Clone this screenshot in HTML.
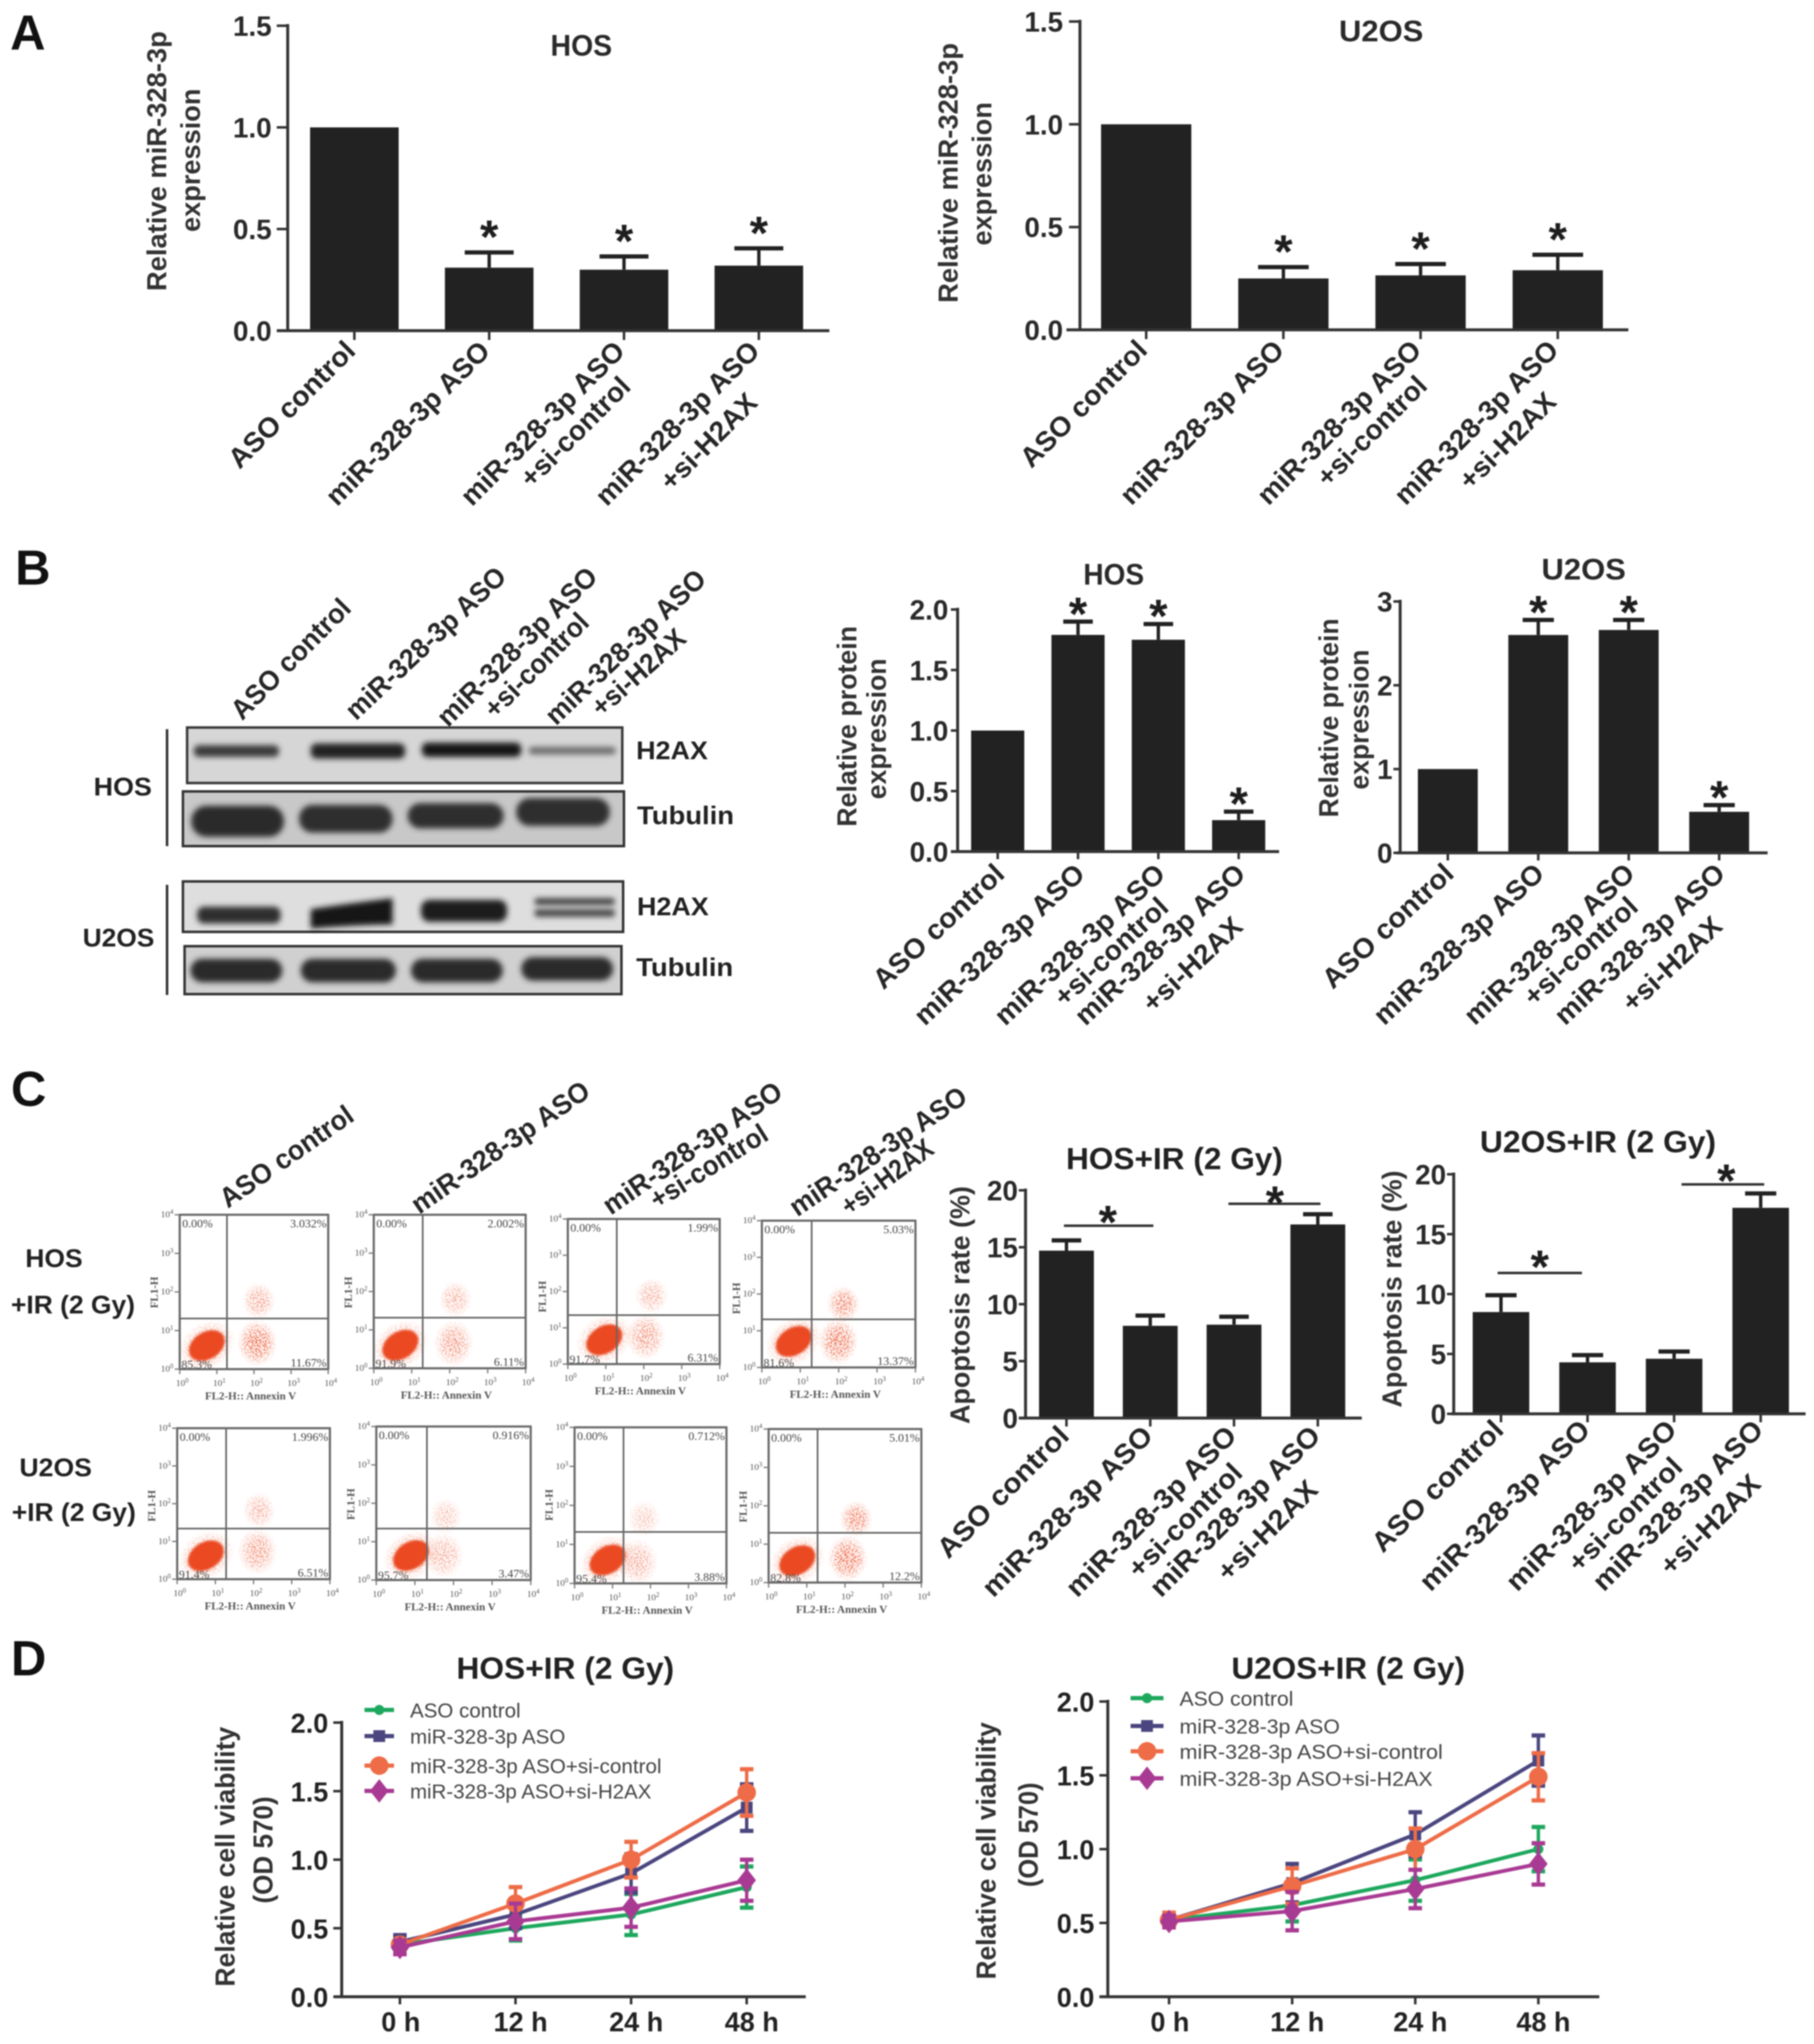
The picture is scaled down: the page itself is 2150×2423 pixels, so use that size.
<!DOCTYPE html>
<html lang="en">
<head>
<meta charset="utf-8">
<title>miR-328-3p figure</title>
<style>
html,body{margin:0;padding:0;background:#fff;}
svg{display:block;filter:blur(0.7px);font-family:"Liberation Sans",sans-serif;}
.letter{font-size:58px;font-weight:bold;fill:#111;}
.title{font-size:35px;font-weight:bold;fill:#2a2a2a;text-anchor:middle;}
.title2{font-size:36px;font-weight:bold;fill:#222;text-anchor:middle;}
.ytitle{font-size:32px;font-weight:bold;fill:#333;text-anchor:middle;}
.lab{font-size:31px;font-weight:bold;fill:#222;}
.rot{font-size:33px;font-weight:bold;fill:#262626;}
</style>
</head>
<body>
<svg id="fig" xmlns="http://www.w3.org/2000/svg" width="2150" height="2423" viewBox="0 0 2150 2423">
<defs>
<filter id="b3" x="-20%" y="-80%" width="140%" height="260%"><feGaussianBlur stdDeviation="3.5"/></filter>
<filter id="b5" x="-20%" y="-80%" width="140%" height="260%"><feGaussianBlur stdDeviation="5"/></filter>
<filter id="b1" x="-15%" y="-15%" width="130%" height="130%"><feGaussianBlur stdDeviation="1.4"/></filter>
<radialGradient id="flowGrad"><stop offset="0" stop-color="#e8401a"/><stop offset="0.55" stop-color="#ee5a35" stop-opacity="0.75"/><stop offset="1" stop-color="#f5906f" stop-opacity="0"/></radialGradient>
<filter id="speckle" x="-10%" y="-10%" width="120%" height="120%">
<feTurbulence type="fractalNoise" baseFrequency="0.6" numOctaves="1" seed="4" result="n"/>
<feColorMatrix in="n" type="matrix" values="0 0 0 0 0 0 0 0 0 0 0 0 0 0 0 7 0 0 0 -3.2" result="m"/>
<feComposite in="SourceGraphic" in2="m" operator="in"/>
</filter>
</defs>

<rect width="2150" height="2423" fill="#fff"/>

<text class="letter" x="12" y="59">A</text>
<text class="letter" x="18" y="693">B</text>
<text class="letter" x="13" y="1311">C</text>
<text class="letter" x="13" y="1986">D</text>

<!-- chart titles -->
<text class="title" x="689" y="66" textLength="73" lengthAdjust="spacingAndGlyphs">HOS</text>
<text class="title" x="1637" y="49" textLength="100" lengthAdjust="spacingAndGlyphs">U2OS</text>
<text class="title" x="1320" y="693" textLength="72" lengthAdjust="spacingAndGlyphs">HOS</text>
<text class="title" x="1877" y="687" textLength="100" lengthAdjust="spacingAndGlyphs">U2OS</text>
<text class="title2" x="1392" y="1386" textLength="257" lengthAdjust="spacingAndGlyphs">HOS+IR (2 Gy)</text>
<text class="title2" x="1894" y="1366" textLength="280" lengthAdjust="spacingAndGlyphs">U2OS+IR (2 Gy)</text>
<text class="title2" x="670" y="1990" textLength="258" lengthAdjust="spacingAndGlyphs">HOS+IR (2 Gy)</text>
<text class="title2" x="1598" y="1990" textLength="277" lengthAdjust="spacingAndGlyphs">U2OS+IR (2 Gy)</text>

<!-- y axis titles -->
<text class="ytitle" transform="translate(197,191) rotate(-90)" textLength="308" lengthAdjust="spacingAndGlyphs">Relative miR-328-3p</text>
<text class="ytitle" transform="translate(237,190) rotate(-90)" textLength="170" lengthAdjust="spacingAndGlyphs">expression</text>
<text class="ytitle" transform="translate(1135,205) rotate(-90)" textLength="308" lengthAdjust="spacingAndGlyphs">Relative miR-328-3p</text>
<text class="ytitle" transform="translate(1175,206) rotate(-90)" textLength="170" lengthAdjust="spacingAndGlyphs">expression</text>
<text class="ytitle" transform="translate(1015,861) rotate(-90)" textLength="238" lengthAdjust="spacingAndGlyphs">Relative protein</text>
<text class="ytitle" transform="translate(1050,864) rotate(-90)" textLength="167" lengthAdjust="spacingAndGlyphs">expression</text>
<text class="ytitle" transform="translate(1586,851) rotate(-90)" textLength="236" lengthAdjust="spacingAndGlyphs">Relative protein</text>
<text class="ytitle" transform="translate(1622,853) rotate(-90)" textLength="166" lengthAdjust="spacingAndGlyphs">expression</text>
<text class="ytitle" transform="translate(1149,1547) rotate(-90)" textLength="282" lengthAdjust="spacingAndGlyphs">Apoptosis rate  (%)</text>
<text class="ytitle" transform="translate(1661,1528) rotate(-90)" textLength="281" lengthAdjust="spacingAndGlyphs">Apoptosis rate  (%)</text>
<text class="ytitle" transform="translate(278,2201) rotate(-90)" textLength="308" lengthAdjust="spacingAndGlyphs">Relative cell viability</text>
<text class="ytitle" transform="translate(323,2193) rotate(-90)" textLength="127" lengthAdjust="spacingAndGlyphs">(OD 570)</text>
<text class="ytitle" transform="translate(1180,2194) rotate(-90)" textLength="305" lengthAdjust="spacingAndGlyphs">Relative cell viability</text>
<text class="ytitle" transform="translate(1230,2175) rotate(-90)" textLength="124" lengthAdjust="spacingAndGlyphs">(OD 570)</text>

<!-- western blots -->
<g>
<g transform="scale(0.99,0.997)">
<line x1="200" y1="867" x2="200" y2="1006" stroke="#333" stroke-width="3"/>
<line x1="200" y1="1052" x2="200" y2="1183" stroke="#333" stroke-width="3"/>
<g>
<rect x="224" y="865" width="521" height="66" fill="#d6d6d6" stroke="#3a3a3a" stroke-width="3"/>
<rect x="232" y="886" width="102" height="14" rx="6" fill="#3a3a3a" filter="url(#b3)"/>
<rect x="372" y="884" width="113" height="18" rx="7" fill="#222" filter="url(#b3)"/>
<rect x="505" y="883" width="119" height="17" rx="7" fill="#181818" filter="url(#b3)"/>
<rect x="633" y="888" width="104" height="9" rx="4" fill="#6a6a6a" filter="url(#b3)"/>
</g>
<g>
<rect x="219" y="941" width="528" height="65" fill="#c8c8c8" stroke="#333" stroke-width="3"/>
<rect x="229" y="958" width="111" height="37" rx="18" fill="#2c2c2c" filter="url(#b3)"/>
<rect x="358" y="957" width="112" height="33" rx="16" fill="#2e2e2e" filter="url(#b3)"/>
<rect x="488" y="955" width="115" height="30" rx="15" fill="#2e2e2e" filter="url(#b3)"/>
<rect x="618" y="949" width="112" height="33" rx="16" fill="#2e2e2e" filter="url(#b3)"/>
</g>
<g>
<rect x="219" y="1048" width="527" height="60" fill="#dedede" stroke="#333" stroke-width="3"/>
<rect x="236" y="1078" width="100" height="20" rx="8" fill="#2e2e2e" filter="url(#b3)"/>
<path d="M372 1081 Q420 1074 470 1068 L470 1099 Q420 1100 372 1104 Z" fill="#181818" filter="url(#b3)"/>
<rect x="504" y="1070" width="103" height="26" rx="10" fill="#1e1e1e" filter="url(#b3)"/>
<rect x="640" y="1068" width="96" height="8" rx="3" fill="#3c3c3c" filter="url(#b3)"/>
<rect x="640" y="1081" width="96" height="9" rx="3" fill="#444" filter="url(#b3)"/>
</g>
<g>
<rect x="221" y="1125" width="523" height="57" fill="#d0d0d0" stroke="#333" stroke-width="3"/>
<rect x="228" y="1140" width="110" height="28" rx="14" fill="#2a2a2a" filter="url(#b3)"/>
<rect x="360" y="1140" width="114" height="28" rx="14" fill="#2a2a2a" filter="url(#b3)"/>
<rect x="492" y="1140" width="110" height="28" rx="14" fill="#2a2a2a" filter="url(#b3)"/>
<rect x="624" y="1138" width="110" height="28" rx="14" fill="#2a2a2a" filter="url(#b3)"/>
</g>
</g>
<text class="lab" x="754" y="900" textLength="85" lengthAdjust="spacingAndGlyphs">H2AX</text>
<text class="lab" x="755" y="977" textLength="115" lengthAdjust="spacingAndGlyphs">Tubulin</text>
<text class="lab" x="755" y="1085" textLength="85" lengthAdjust="spacingAndGlyphs">H2AX</text>
<text class="lab" x="754" y="1157" textLength="115" lengthAdjust="spacingAndGlyphs">Tubulin</text>
<text class="lab" x="111" y="943" textLength="69" lengthAdjust="spacingAndGlyphs">HOS</text>
<text class="lab" x="98" y="1122" textLength="85" lengthAdjust="spacingAndGlyphs">U2OS</text>
</g>

<!-- flow row labels -->
<text class="lab" x="30" y="1502" textLength="68" lengthAdjust="spacingAndGlyphs">HOS</text>
<text class="lab" x="13" y="1557" textLength="147" lengthAdjust="spacingAndGlyphs">+IR (2 Gy)</text>
<text class="lab" x="23" y="1750" textLength="86" lengthAdjust="spacingAndGlyphs">U2OS</text>
<text class="lab" x="14" y="1803" textLength="147" lengthAdjust="spacingAndGlyphs">+IR (2 Gy)</text>

<!-- significance brackets in panel C -->
<g stroke="#333" stroke-width="3">
<line x1="1261" y1="1453" x2="1367" y2="1453"/>
<line x1="1456" y1="1427" x2="1565" y2="1427"/>
<line x1="1775" y1="1509" x2="1875" y2="1509"/>
<line x1="1993" y1="1404" x2="2091" y2="1404"/>
</g>
<g font-size="56" font-weight="bold" text-anchor="middle" fill="#1e1e1e">
<text x="1313" y="1468">*</text>
<text x="1511" y="1445">*</text>
<text x="1825" y="1521">*</text>
<text x="2046" y="1419">*</text>
</g>

<script>
// ---------- DATA ----------
const categories = ['ASO control', 'miR-328-3p ASO', 'miR-328-3p ASO\n+si-control', 'miR-328-3p ASO\n+si-H2AX'];

const aTicks = ['0.0', '0.5', '1.0', '1.5'];
const aHosValues = [1.0, 0.31, 0.30, 0.32];
const aHosErrTops = [1.0, 0.385, 0.365, 0.405];
const aU2osValues = [1.0, 0.25, 0.265, 0.29];
const aU2osErrTops = [1.0, 0.305, 0.32, 0.365];
const aStars = [false, true, true, true];

const bHosTicks = ['0.0', '0.5', '1.0', '1.5', '2.0'];
const bHosValues = [1.0, 1.79, 1.75, 0.26];
const bHosErrTops = [1.0, 1.90, 1.88, 0.33];
const bU2osTicks = ['0', '1', '2', '3'];
const bU2osValues = [1.0, 2.60, 2.66, 0.49];
const bU2osErrTops = [1.0, 2.78, 2.78, 0.57];
const bStars = [false, true, true, true];

const cTicks = ['0', '5', '10', '15', '20'];
const cHosValues = [14.7, 8.1, 8.2, 17.0];
const cHosErrTops = [15.6, 9.0, 8.9, 17.9];
const cU2osValues = [8.5, 4.3, 4.6, 17.2];
const cU2osErrTops = [9.9, 4.9, 5.2, 18.4];
const noStars = [false, false, false, false];

const timeLabels = ['0 h', '12 h', '24 h', '48 h'];
const dTicks = ['0.0', '0.5', '1.0', '1.5', '2.0'];
const seriesNames = ['ASO control', 'miR-328-3p ASO', 'miR-328-3p ASO+si-control', 'miR-328-3p ASO+si-H2AX'];
const dHosControl = [0.38, 0.50, 0.60, 0.80];
const dHosControlErr = [0.04, 0.09, 0.15, 0.15];
const dHosMir = [0.40, 0.60, 0.90, 1.38];
const dHosMirErr = [0.05, 0.10, 0.14, 0.17];
const dHosSiControl = [0.38, 0.68, 1.00, 1.49];
const dHosSiControlErr = [0.03, 0.12, 0.13, 0.17];
const dHosSiH2ax = [0.36, 0.55, 0.65, 0.85];
const dHosSiH2axErr = [0.05, 0.13, 0.14, 0.15];
const dU2osControl = [0.52, 0.62, 0.79, 1.00];
const dU2osControlErr = [0.03, 0.11, 0.14, 0.15];
const dU2osMir = [0.52, 0.77, 1.10, 1.60];
const dU2osMirErr = [0.03, 0.13, 0.15, 0.17];
const dU2osSiControl = [0.52, 0.75, 1.00, 1.49];
const dU2osSiControlErr = [0.05, 0.12, 0.14, 0.16];
const dU2osSiH2ax = [0.51, 0.58, 0.73, 0.90];
const dU2osSiH2axErr = [0.04, 0.13, 0.13, 0.14];

// flow cytometry quadrant percentages: upper-left, upper-right, lower-left, lower-right
const flowHos1Pct = [0.00, 3.032, 85.3, 11.67];
const flowHos2Pct = [0.00, 2.002, 91.9, 6.11];
const flowHos3Pct = [0.00, 1.99, 91.7, 6.31];
const flowHos4Pct = [0.00, 5.03, 81.6, 13.37];
const flowU2os1Pct = [0.00, 1.996, 91.4, 6.51];
const flowU2os2Pct = [0.00, 0.916, 95.7, 3.47];
const flowU2os3Pct = [0.00, 0.712, 95.4, 3.88];
const flowU2os4Pct = [0.00, 5.01, 82.8, 12.2];
const flowHos1PctText = ['0.00%', '3.032%', '85.3%', '11.67%'];
const flowHos2PctText = ['0.00%', '2.002%', '91.9%', '6.11%'];
const flowHos3PctText = ['0.00%', '1.99%', '91.7%', '6.31%'];
const flowHos4PctText = ['0.00%', '5.03%', '81.6%', '13.37%'];
const flowU2os1PctText = ['0.00%', '1.996%', '91.4%', '6.51%'];
const flowU2os2PctText = ['0.00%', '0.916%', '95.7%', '3.47%'];
const flowU2os3PctText = ['0.00%', '0.712%', '95.4%', '3.88%'];
const flowU2os4PctText = ['0.00%', '5.01%', '82.8%', '12.2%'];
// population centres in log10 decades [annexin, FL1] : live, early apoptotic, late apoptotic
const flowHos1Centers = [[0.73, 0.61], [2.09, 0.68], [2.13, 1.77]];
const flowHos2Centers = [[0.70, 0.60], [2.10, 0.65], [2.15, 1.80]];
const flowHos3Centers = [[0.96, 0.67], [2.05, 0.76], [2.20, 1.88]];
const flowHos4Centers = [[0.83, 0.71], [1.99, 0.71], [2.12, 1.73]];
const flowU2os1Centers = [[0.75, 0.62], [2.10, 0.73], [2.14, 1.82]];
const flowU2os2Centers = [[0.90, 0.64], [1.75, 0.64], [1.80, 1.66]];
const flowU2os3Centers = [[0.87, 0.60], [1.67, 0.55], [1.83, 1.66]];
const flowU2os4Centers = [[0.75, 0.57], [2.07, 0.63], [2.29, 1.66]];
const flowDecades = [0, 1, 2, 3, 4];

// ---------- HELPERS ----------
const NS = 'http://www.w3.org/2000/svg';
const fig = document.getElementById('fig');
function mk(tag, attrs, parent, name) {
  const el = document.createElementNS(NS, tag);
  for (const k in attrs) el.setAttribute(k, attrs[k]);
  
  
  (parent || fig).appendChild(el);
  return el;
}
function txt(str, attrs, parent, name) {
  const el = mk('text', attrs, parent, name);
  el.textContent = str;
  return el;
}
const labelLen = {'ASO control': 205, 'miR-328-3p ASO': 270, '+si-control': 176, '+si-H2AX': 153};

function rotated(str, x1, y1, x2, y2, parent, name, size) {
  const dx = x2 - x1, dy = y2 - y1;
  const len = Math.round(Math.hypot(dx, dy));
  const ang = Math.atan2(dy, dx) * 180 / Math.PI;
  return txt(str, {'class': 'rot', x: 0, y: 0, 'font-size': size || 33,
    transform: 'translate(' + x1 + ',' + y1 + ') rotate(' + ang.toFixed(2) + ')',
    textLength: len, lengthAdjust: 'spacingAndGlyphs'}, parent, name);
}
function categoryLabel(cat, ex, ey, c, parent) {
  const k = c.k, angle = c.angle;
  const lines = cat.split('\n');
  lines.forEach(function (line, i) {
    const off = line === '+si-control' ? (c.siCtl || [7, 44]) : [-3, 64];
    const ox = i ? off[0] * k : 0;
    const oy = i ? off[1] * k : 0;
    const len = labelLen[line] * k;
    const x = ex + ox, y = ey + oy;
    const a = angle * Math.PI / 180;
    rotated(line, x - len * Math.cos(a), y + len * Math.sin(a), x, y, parent, 'x-tick-label', 33 * k);
  });
}

function barChart(c, tickLabels, values, errTops, stars, name) {
  const g = mk('g', {}, fig, name);
  const max = parseFloat(tickLabels[tickLabels.length - 1]);
  const y = function (v) { return c.y0 - v * (c.y0 - c.yTop) / max; };
  const x = function (i) { return c.x0 + i * c.step; };
  values.forEach(function (v, i) {
    mk('rect', {x: x(i) - c.barW / 2, y: y(v), width: c.barW, height: c.y0 - y(v), fill: '#222'}, g, 'bar');
    if (errTops[i] > v) {
      mk('line', {x1: x(i), x2: x(i), y1: y(v), y2: y(errTops[i]), stroke: '#222', 'stroke-width': 4}, g, 'error-bar-stem');
      mk('line', {x1: x(i) - c.capW / 2, x2: x(i) + c.capW / 2, y1: y(errTops[i]), y2: y(errTops[i]), stroke: '#222', 'stroke-width': 5}, g, 'error-bar-cap');
    }
    if (stars[i]) {
      txt('*', {x: x(i), y: y(errTops[i]) - c.starGap + 31, 'font-size': 56, 'font-weight': 'bold', 'text-anchor': 'middle', fill: '#1e1e1e'}, g, 'significance-star');
    }
    mk('line', {x1: x(i), x2: x(i), y1: c.y0, y2: c.y0 + c.tickB, stroke: '#333', 'stroke-width': 3}, g, 'x-tick');
    categoryLabel(categories[i], x(i) + c.lx, c.y0 + c.ly, c, g);
  });
  mk('line', {x1: c.axisX, x2: c.axisX, y1: c.yTop - 2, y2: c.y0, stroke: '#333', 'stroke-width': 3.5}, g, 'y-axis');
  mk('line', {x1: c.xA, x2: c.xB, y1: c.y0, y2: c.y0, stroke: '#333', 'stroke-width': 3.5}, g, 'x-axis');
  tickLabels.forEach(function (t) {
    const v = parseFloat(t);
    mk('line', {x1: c.axisX - c.tickL, x2: c.axisX, y1: y(v), y2: y(v), stroke: '#333', 'stroke-width': 3}, g, 'y-tick');
    txt(t, {x: c.axisX - c.labelGap, y: y(v) + 12, 'font-size': 33, 'font-weight': 'bold', 'text-anchor': 'end', fill: '#2a2a2a'}, g, 'y-tick-label');
  });
}

function marker(kind, cx, cy, color, parent) {
  if (kind === 0) mk('circle', {cx: cx, cy: cy, r: 6, fill: color}, parent, 'marker-circle');
  if (kind === 1) mk('rect', {x: cx - 7, y: cy - 7, width: 14, height: 14, fill: color}, parent, 'marker-square');
  if (kind === 2) mk('circle', {cx: cx, cy: cy, r: 11, fill: color}, parent, 'marker-hexagon');
  if (kind === 3) mk('polygon', {points: [cx, cy - 14, cx + 11, cy, cx, cy + 14, cx - 11, cy].join(','), fill: color}, parent, 'marker-diamond');
}
const seriesColors = ['#1ea85e', '#4b467f', '#ee6c47', '#a93a93'];

function lineChart(c, tickLabels, times, seriesVals, seriesErrs, name) {
  const g = mk('g', {}, fig, name);
  const max = parseFloat(tickLabels[tickLabels.length - 1]);
  const y = function (v) { return c.y0 - v * (c.y0 - c.yTop) / max; };
  const x = function (i) { return c.x0 + i * c.step; };
  seriesVals.forEach(function (vals, s) {
    const sg = mk('g', {}, g, 'series-' + seriesNames[s].toLowerCase().replace(/[^a-z0-9]+/g, '-'));
    const pts = vals.map(function (v, i) { return x(i) + ',' + y(v); }).join(' ');
    mk('polyline', {points: pts, fill: 'none', stroke: seriesColors[s], 'stroke-width': 4.5}, sg, 'series-line');
    vals.forEach(function (v, i) {
      const e = seriesErrs[s][i];
      mk('line', {x1: x(i), x2: x(i), y1: y(v - e), y2: y(v + e), stroke: seriesColors[s], 'stroke-width': 4}, sg, 'error-bar-stem');
      mk('line', {x1: x(i) - 8, x2: x(i) + 8, y1: y(v + e), y2: y(v + e), stroke: seriesColors[s], 'stroke-width': 5}, sg, 'error-bar-cap');
      mk('line', {x1: x(i) - 8, x2: x(i) + 8, y1: y(v - e), y2: y(v - e), stroke: seriesColors[s], 'stroke-width': 5}, sg, 'error-bar-cap');
      marker(s, x(i), y(v), seriesColors[s], sg);
    });
  });
  mk('line', {x1: c.axisX, x2: c.axisX, y1: c.yTop - 2, y2: c.y0, stroke: '#333', 'stroke-width': 3.5}, g, 'y-axis');
  mk('line', {x1: c.xA, x2: c.xB, y1: c.y0, y2: c.y0, stroke: '#333', 'stroke-width': 3.5}, g, 'x-axis');
  tickLabels.forEach(function (t) {
    const v = parseFloat(t);
    mk('line', {x1: c.axisX - 10, x2: c.axisX, y1: y(v), y2: y(v), stroke: '#333', 'stroke-width': 3}, g, 'y-tick');
    txt(t, {x: c.axisX - 16, y: y(v) + 12, 'font-size': 32, 'font-weight': 'bold', 'text-anchor': 'end', fill: '#222'}, g, 'y-tick-label');
  });
  times.forEach(function (t, i) {
    mk('line', {x1: x(i), x2: x(i), y1: c.y0, y2: c.y0 + 9, stroke: '#333', 'stroke-width': 3}, g, 'x-tick');
    txt(t, {x: x(i) + (i ? 6 : 1), y: c.y0 + 41, 'font-size': 32, 'font-weight': 'bold', 'text-anchor': 'middle', fill: '#222'}, g, 'x-tick-label');
  });
  const leg = mk('g', {}, g, 'legend');
  seriesNames.forEach(function (nm, s) {
    const ly = c.legendY + c.legendRows[s];
    const e = mk('g', {}, leg, 'legend-entry');
    mk('line', {x1: c.legX1, x2: c.legX2, y1: ly, y2: ly, stroke: seriesColors[s], 'stroke-width': 5}, e, 'legend-line');
    marker(s, (c.legX1 + c.legX2) / 2, ly, seriesColors[s], e);
    txt(nm, {x: c.legText, y: ly + 9, 'font-size': 24, fill: '#444', textLength: c.legLens[s], lengthAdjust: 'spacingAndGlyphs'}, e, 'legend-label');
  });
}

function flowPlot(f, pct, pctText, centers, name) {
  const g = mk('g', {}, fig, name);
  const X = function (d) { return f.L + d * (f.R - f.L) / 4; };
  const Y = function (d) { return f.B - d * (f.B - f.T) / 4; };
  const ser = '"Liberation Serif",serif';
  // late apoptotic (upper right), early apoptotic (lower right), live (lower left)
  const upper = centers[2], lower = centers[1], live = centers[0];
  const upA = Math.min(0.9, 0.3 + pct[1] * 0.1);
  const loA = Math.min(0.95, 0.3 + pct[3] * 0.06);
  mk('ellipse', {cx: X(upper[0]), cy: Y(upper[1]), rx: 20, ry: 22, fill: 'url(#flowGrad)', opacity: upA, filter: 'url(#speckle)'}, g, 'late-apoptotic-population');
  mk('ellipse', {cx: X(lower[0]), cy: Y(lower[1]), rx: 24, ry: 28, fill: 'url(#flowGrad)', opacity: loA, filter: 'url(#speckle)'}, g, 'early-apoptotic-population');
  const a = 'rotate(-32 ' + X(live[0]) + ' ' + Y(live[1]) + ')';
  mk('ellipse', {cx: X(live[0]), cy: Y(live[1]), rx: 36, ry: 28, fill: 'url(#flowGrad)', opacity: 0.7, transform: a, filter: 'url(#speckle)'}, g, 'live-population-halo');
  mk('ellipse', {cx: X(live[0]), cy: Y(live[1]), rx: 23, ry: 16, fill: '#ea4a20', transform: a, filter: 'url(#b1)'}, g, 'live-population');

  mk('rect', {x: f.L, y: f.T, width: f.R - f.L, height: f.B - f.T, fill: 'none', stroke: '#666', 'stroke-width': 2.5}, g, 'plot-frame');
  mk('line', {x1: f.L, x2: f.R, y1: f.H, y2: f.H, stroke: '#666', 'stroke-width': 2}, g, 'gate-horizontal');
  mk('line', {x1: f.V, x2: f.V, y1: f.T, y2: f.B, stroke: '#666', 'stroke-width': 2}, g, 'gate-vertical');

  flowDecades.forEach(function (d) {
    mk('line', {x1: X(d), x2: X(d), y1: f.B, y2: f.B + 6, stroke: '#777', 'stroke-width': 1.5}, g, 'x-tick');
    mk('line', {x1: f.L - 6, x2: f.L, y1: Y(d), y2: Y(d), stroke: '#777', 'stroke-width': 1.5}, g, 'y-tick');
    const tx = txt('10', {x: X(d) + 3, y: f.B + 20, 'font-size': 11, 'font-family': ser, 'text-anchor': 'middle', fill: '#555'}, g, 'x-tick-label');
    const s1 = mk('tspan', {dy: -4, 'font-size': 8}, tx, 'x-tick-exponent');
    s1.textContent = String(d);
    const ty = txt('10', {x: f.L - 15, y: Y(d) + 3, 'font-size': 11, 'font-family': ser, 'text-anchor': 'middle', fill: '#555'}, g, 'y-tick-label');
    const s2 = mk('tspan', {dy: -4, 'font-size': 8}, ty, 'y-tick-exponent');
    s2.textContent = String(d);
  });
  const pctAttrs = {'font-size': 14, 'font-family': ser, fill: '#444'};
  txt(pctText[0], Object.assign({x: f.L + 3, y: f.T + 15}, pctAttrs), g, 'quadrant-upper-left-percent');
  txt(pctText[1], Object.assign({x: f.R - 2, y: f.T + 15, 'text-anchor': 'end'}, pctAttrs), g, 'quadrant-upper-right-percent');
  txt(pctText[2], Object.assign({x: f.L + 2, y: f.B - 1}, pctAttrs), g, 'quadrant-lower-left-percent');
  txt(pctText[3], Object.assign({x: f.R - 2, y: f.B - 3, 'text-anchor': 'end'}, pctAttrs), g, 'quadrant-lower-right-percent');
  txt('FL2-H:: Annexin V', {x: (f.L + f.R) / 2 - 4, y: f.B + 36, 'font-size': 13, 'font-weight': 'bold', 'font-family': ser, 'text-anchor': 'middle', fill: '#555'}, g, 'x-axis-title');
  txt('FL1-H', {transform: 'translate(' + (f.L - 26) + ',' + (f.T + 92) + ') rotate(-90)', 'font-size': 13, 'font-weight': 'bold', 'font-family': ser, 'text-anchor': 'middle', fill: '#555'}, g, 'y-axis-title');
}

// ---------- PANEL A ----------
barChart({axisX: 341, y0: 392, yTop: 30.5, x0: 420, step: 159.8, barW: 105, capW: 58, xA: 328, xB: 983, tickL: 13, tickB: 11, labelGap: 19, starGap: 30, lx: 3, ly: 26, k: 0.96, angle: 45},
  aTicks, aHosValues, aHosErrTops, aStars, 'bar-chart-a-hos');
barChart({axisX: 1280, y0: 391, yTop: 25.5, x0: 1358.5, step: 162.6, barW: 107, capW: 60, xA: 1264, xB: 1930, tickL: 13, tickB: 11, labelGap: 20, starGap: 30, lx: 3, ly: 26, k: 0.96, angle: 45},
  aTicks, aU2osValues, aU2osErrTops, aStars, 'bar-chart-a-u2os');

// ---------- PANEL B ----------
barChart({axisX: 1135, y0: 1009.5, yTop: 722.5, x0: 1182.5, step: 95.2, barW: 63, capW: 35, xA: 1127, xB: 1516, tickL: 8, tickB: 9, labelGap: 11, starGap: 21, lx: 10, ly: 29, k: 0.97, angle: 43, siCtl: [4, 41]},
  bHosTicks, bHosValues, bHosErrTops, bStars, 'bar-chart-b-hos');
barChart({axisX: 1659.5, y0: 1011, yTop: 713, x0: 1716, step: 107.2, barW: 71, capW: 37, xA: 1655.5, xB: 2095, tickL: 8, tickB: 9, labelGap: 9, starGap: 21, lx: 9, ly: 27, k: 0.97, angle: 43, siCtl: [4, 41]},
  bU2osTicks, bU2osValues, bU2osErrTops, bStars, 'bar-chart-b-u2os');

// top blot labels
const topB = mk('g', {}, fig, 'blot-lane-labels');
rotated('ASO control', 287, 855, 418, 723, topB, 'lane-label');
rotated('miR-328-3p ASO', 422, 855, 602, 686, topB, 'lane-label');
rotated('miR-328-3p ASO', 531, 863, 710, 686, topB, 'lane-label');
rotated('+si-control', 587, 853, 700, 740, topB, 'lane-label');
rotated('miR-328-3p ASO', 659, 861, 839, 689, topB, 'lane-label');
rotated('+si-H2AX', 713, 851, 815, 760, topB, 'lane-label');

// ---------- PANEL C ----------
barChart({axisX: 1215.5, y0: 1681, yTop: 1411, x0: 1264, step: 99.3, barW: 65, capW: 35, xA: 1207.5, xB: 1614, tickL: 8, tickB: 10, labelGap: 9, starGap: 0, lx: 5, ly: 23, k: 1, angle: 45},
  cTicks, cHosValues, cHosErrTops, noStars, 'bar-chart-c-hos');
barChart({axisX: 1723, y0: 1676, yTop: 1392, x0: 1779, step: 102.6, barW: 67, capW: 37, xA: 1720, xB: 2140, tickL: 8, tickB: 10, labelGap: 9, starGap: 0, lx: 5, ly: 21, k: 1, angle: 45},
  cTicks, cU2osValues, cU2osErrTops, noStars, 'bar-chart-c-u2os');

const topC = mk('g', {}, fig, 'flow-column-labels');
rotated('ASO control', 270, 1433, 422, 1327, topC, 'column-label');
rotated('miR-328-3p ASO', 497, 1440, 702, 1298, topC, 'column-label');
rotated('miR-328-3p ASO', 724, 1441, 930, 1299, topC, 'column-label');
rotated('+si-control', 779, 1434, 913, 1350, topC, 'column-label');
rotated('miR-328-3p ASO', 945, 1443, 1149, 1305, topC, 'column-label');
rotated('+si-H2AX', 1007, 1442, 1109, 1366, topC, 'column-label');

flowPlot({L: 213, R: 389, T: 1440, B: 1623, H: 1563, V: 269}, flowHos1Pct, flowHos1PctText, flowHos1Centers, 'flow-plot-hos-aso-control');
flowPlot({L: 443, R: 623, T: 1440, B: 1622, H: 1562, V: 501}, flowHos2Pct, flowHos2PctText, flowHos2Centers, 'flow-plot-hos-mir-aso');
flowPlot({L: 673, R: 853, T: 1445, B: 1617, H: 1559, V: 731}, flowHos3Pct, flowHos3PctText, flowHos3Centers, 'flow-plot-hos-si-control');
flowPlot({L: 903, R: 1085, T: 1447, B: 1621, H: 1564, V: 962}, flowHos4Pct, flowHos4PctText, flowHos4Centers, 'flow-plot-hos-si-h2ax');
flowPlot({L: 210, R: 391, T: 1693, B: 1872, H: 1812, V: 268}, flowU2os1Pct, flowU2os1PctText, flowU2os1Centers, 'flow-plot-u2os-aso-control');
flowPlot({L: 446, R: 629, T: 1691, B: 1873, H: 1812, V: 506}, flowU2os2Pct, flowU2os2PctText, flowU2os2Centers, 'flow-plot-u2os-mir-aso');
flowPlot({L: 681, R: 861, T: 1692, B: 1877, H: 1816, V: 739}, flowU2os3Pct, flowU2os3PctText, flowU2os3Centers, 'flow-plot-u2os-si-control');
flowPlot({L: 911, R: 1092, T: 1694, B: 1876, H: 1817, V: 969}, flowU2os4Pct, flowU2os4PctText, flowU2os4Centers, 'flow-plot-u2os-si-h2ax');

// ---------- PANEL D ----------
lineChart({axisX: 405, y0: 2367, yTop: 2042, x0: 474, step: 137, xA: 396, xB: 955,
  legX1: 432, legX2: 467, legText: 486, legendY: 2027, legendRows: [0, 31, 66, 96], legLens: [131, 184, 298, 286]},
  dTicks, timeLabels, [dHosControl, dHosMir, dHosSiControl, dHosSiH2ax],
  [dHosControlErr, dHosMirErr, dHosSiControlErr, dHosSiH2axErr], 'line-chart-d-hos');
lineChart({axisX: 1313, y0: 2367, yTop: 2017, x0: 1385.6, step: 145.9, xA: 1303, xB: 1895.5,
  legX1: 1340, legX2: 1379, legText: 1398, legendY: 2013, legendRows: [0, 33, 63, 95], legLens: [135, 190, 312, 300]},
  dTicks, timeLabels, [dU2osControl, dU2osMir, dU2osSiControl, dU2osSiH2ax],
  [dU2osControlErr, dU2osMirErr, dU2osSiControlErr, dU2osSiH2axErr], 'line-chart-d-u2os');
</script>
</svg>
</body>
</html>
